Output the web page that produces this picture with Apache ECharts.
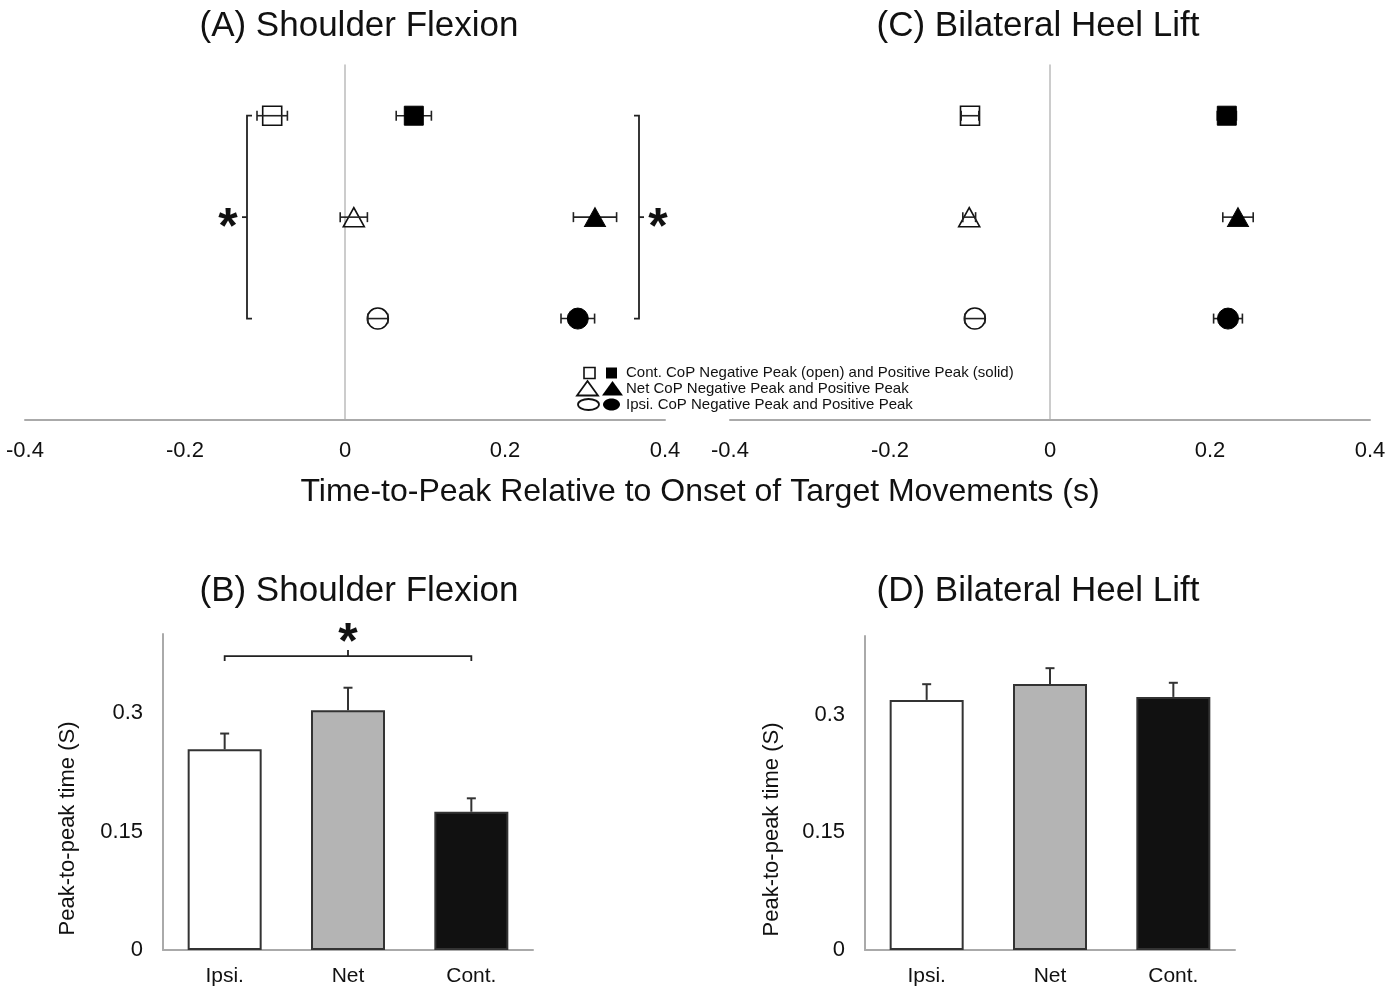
<!DOCTYPE html>
<html><head><meta charset="utf-8">
<script src="https://cdn.jsdelivr.net/npm/echarts@6/dist/echarts.min.js"></script>
<style>html,body{margin:0;padding:0;background:#fff}#c{width:1398px;height:987px}</style>
</head><body><div id="c"></div>
<script>
// ---------- DATA ----------
// rows in panels A/C: y = 1 (Ipsi, circle), 2 (Net, triangle), 3 (Cont, square)
const rowLabels = ['Ipsi.', 'Net', 'Cont.'];
const rowY = [1, 2, 3];
const rowSymbols = ['circle', 'triangle', 'rect'];
// (A) Shoulder Flexion: time-to-peak (s)
const shoulderNegMean = [0.041, 0.011, -0.091];
const shoulderNegErr  = [0.0125, 0.017, 0.019];
const shoulderPosMean = [0.291, 0.3125, 0.086];
const shoulderPosErr  = [0.021, 0.027, 0.022];
// (C) Bilateral Heel Lift: time-to-peak (s)
const heelNegMean = [-0.094, -0.101, -0.100];
const heelNegErr  = [0.0125, 0.008, 0.011];
const heelPosMean = [0.2225, 0.235, 0.221];
const heelPosErr  = [0.018, 0.019, 0.012];
// (B)/(D) peak-to-peak time (s)
const barCategories = ['Ipsi.', 'Net', 'Cont.'];
const shoulderP2P    = [0.254, 0.3035, 0.175];
const shoulderP2PErr = [0.020, 0.0285, 0.017];
const heelP2P        = [0.3186, 0.339, 0.3224];
const heelP2PErr     = [0.020, 0.020, 0.018];
const barColors = ['#ffffff', '#b4b4b4', '#111111'];
// significance annotations
const sigBracketsTop = [ // [x position, y from, y to, direction]
  [-0.1225, 1, 3, 1],
  [0.3675, 1, 3, -1]
];
const sigBracketB = [[0, 2, 0.372]]; // [cat from, cat to, y]
const legendRows = [
  'Cont. CoP Negative Peak (open) and Positive Peak (solid)',
  'Net CoP Negative Peak and Positive Peak',
  'Ipsi. CoP Negative Peak and Positive Peak'
];
const titles = ['(A) Shoulder Flexion', '(C) Bilateral Heel Lift', '(B) Shoulder Flexion', '(D) Bilateral Heel Lift'];
const sharedXName = 'Time-to-Peak Relative to Onset of Target Movements (s)';
const barYName = 'Peak-to-peak time (S)';

// ---------- CHART ----------
const FF = 'Liberation Sans, Arial, Helvetica, sans-serif';
const chart = echarts.init(document.getElementById('c'));

const symSize = {circle: 21, triangle: [21, 19], rect: 19};
function scatterData(means) {
  return means.map((m, i) => ({value: [m, rowY[i]], symbol: rowSymbols[i], symbolSize: symSize[rowSymbols[i]]}));
}
function errData(means, errs) { return means.map((m, i) => [m, rowY[i], errs[i]]); }

function hErr(params, api) {
  const x = api.value(0), y = api.value(1), e = api.value(2);
  const a = api.coord([x - e, y]), b = api.coord([x + e, y]);
  const c = 5, st = {stroke: '#222', lineWidth: 1.6};
  return {type: 'group', children: [
    {type: 'line', shape: {x1: a[0], y1: a[1], x2: b[0], y2: b[1]}, style: st},
    {type: 'line', shape: {x1: a[0], y1: a[1] - c, x2: a[0], y2: a[1] + c}, style: st},
    {type: 'line', shape: {x1: b[0], y1: b[1] - c, x2: b[0], y2: b[1] + c}, style: st}
  ]};
}
function vErr(params, api) {
  const i = api.value(0), v = api.value(1), e = api.value(2);
  const a = api.coord([i, v]), b = api.coord([i, v + e]);
  const st = {stroke: '#333', lineWidth: 2};
  return {type: 'group', children: [
    {type: 'line', shape: {x1: a[0], y1: a[1], x2: b[0], y2: b[1]}, style: st},
    {type: 'line', shape: {x1: b[0] - 4.5, y1: b[1], x2: b[0] + 4.5, y2: b[1]}, style: st}
  ]};
}
function bracketTop(params, api) {
  const x = api.value(0), y1 = api.value(1), y2 = api.value(2), d = api.value(3);
  const t = api.coord([x, y2]), b = api.coord([x, y1]), m = api.coord([x, (y1 + y2) / 2]);
  const s = 5 * d, st = {stroke: '#222', lineWidth: 1.8, fill: null};
  return {type: 'group', children: [
    {type: 'polyline', shape: {points: [[t[0] + s, t[1]], [t[0], t[1]], [b[0], b[1]], [b[0] + s, b[1]]]}, style: st},
    {type: 'line', shape: {x1: m[0], y1: m[1], x2: m[0] - s, y2: m[1]}, style: st},
    {type: 'text', x: m[0] - 19 * d, y: m[1] + 12, style: {text: '*', font: 'bold 50px ' + FF, fill: '#111', align: 'center', verticalAlign: 'middle'}}
  ]};
}
function bracketBar(params, api) {
  const a = api.coord([api.value(0), api.value(2)]), b = api.coord([api.value(1), api.value(2)]);
  const mx = (a[0] + b[0]) / 2, st = {stroke: '#222', lineWidth: 1.8, fill: null};
  return {type: 'group', children: [
    {type: 'polyline', shape: {points: [[a[0], a[1] + 5], [a[0], a[1]], [b[0], b[1]], [b[0], b[1] + 5]]}, style: st},
    {type: 'line', shape: {x1: mx, y1: a[1], x2: mx, y2: a[1] - 6}, style: st},
    {type: 'text', x: mx, y: a[1] - 12, style: {text: '*', font: 'bold 50px ' + FF, fill: '#111', align: 'center', verticalAlign: 'middle'}}
  ]};
}

const openStyle = {color: 'rgba(0,0,0,0)', borderColor: '#111', borderWidth: 1.6, opacity: 1};
const solidStyle = {color: '#000', borderColor: '#000', borderWidth: 1, opacity: 1};

function topX(gi) {
  return {gridIndex: gi, type: 'value', min: -0.4, max: 0.4, interval: 0.2,
    axisLine: {lineStyle: {color: '#aaa', width: 2}}, axisTick: {show: false}, splitLine: {show: false},
    axisLabel: {fontSize: 22, color: '#111', margin: 20, fontFamily: FF}};
}
function topY(gi) {
  return {gridIndex: gi, type: 'value', min: 0, max: 3.5,
    axisLine: {show: true, lineStyle: {color: '#bbb', width: 1.5}}, axisTick: {show: false},
    axisLabel: {show: false}, splitLine: {show: false}};
}
function barX(gi) {
  return {gridIndex: gi, type: 'category', data: barCategories,
    axisLine: {lineStyle: {color: '#aaa', width: 2}}, axisTick: {show: false},
    axisLabel: {fontSize: 21, color: '#111', margin: 16, fontFamily: FF}};
}
function barY(gi, gap) {
  return {gridIndex: gi, type: 'value', min: 0, max: 0.4, interval: 0.15,
    axisLine: {show: true, lineStyle: {color: '#aaa', width: 2}}, axisTick: {show: false}, splitLine: {show: false},
    axisLabel: {fontSize: 22, color: '#111', margin: 20, fontFamily: FF, showMaxLabel: false},
    name: barYName, nameLocation: 'middle', nameGap: gap,
    nameTextStyle: {fontSize: 22, color: '#111', fontFamily: FF, padding: [0, 73, 0, 0]}};
}

const legendGraphic = [];
const lgY = [373, 388.5, 404.5];
legendGraphic.push({type: 'rect', shape: {x: 584, y: lgY[0] - 5.5, width: 11, height: 11}, style: {fill: '#fff', stroke: '#111', lineWidth: 1.6}});
legendGraphic.push({type: 'rect', shape: {x: 606, y: lgY[0] - 5.5, width: 11, height: 11}, style: {fill: '#000'}});
legendGraphic.push({type: 'polygon', shape: {points: [[587.5, lgY[1] - 7.5], [598, lgY[1] + 7], [577, lgY[1] + 7]]}, style: {fill: '#fff', stroke: '#111', lineWidth: 1.8}});
legendGraphic.push({type: 'polygon', shape: {points: [[612.5, lgY[1] - 7.5], [623, lgY[1] + 7], [602, lgY[1] + 7]]}, style: {fill: '#000'}});
legendGraphic.push({type: 'ellipse', shape: {cx: 588.5, cy: lgY[2], rx: 10.5, ry: 5.5}, style: {fill: '#fff', stroke: '#111', lineWidth: 1.8}});
legendGraphic.push({type: 'ellipse', shape: {cx: 611.5, cy: lgY[2], rx: 8.5, ry: 6}, style: {fill: '#000'}});
legendRows.forEach((t, i) => legendGraphic.push({type: 'text', x: 626, y: lgY[i], style: {text: t, font: '15px ' + FF, fill: '#111', verticalAlign: 'middle'}}));

const titleStyle = {fontSize: 35, fontWeight: 'normal', color: '#111', fontFamily: FF};
const option = {
  animation: false,
  backgroundColor: '#fff',
  title: [
    {text: titles[0], left: 359, top: 9, textAlign: 'center', padding: 0, textStyle: titleStyle},
    {text: titles[1], left: 1038, top: 9, textAlign: 'center', padding: 0, textStyle: titleStyle},
    {text: titles[2], left: 359, top: 574, textAlign: 'center', padding: 0, textStyle: titleStyle},
    {text: titles[3], left: 1038, top: 574, textAlign: 'center', padding: 0, textStyle: titleStyle},
    {text: sharedXName, left: 700, top: 476, textAlign: 'center', padding: 0, textStyle: {fontSize: 32, fontWeight: 'normal', color: '#111', fontFamily: FF}}
  ],
  grid: [
    {left: 25, right: 1398 - 665, top: 65, bottom: 987 - 420},
    {left: 730, right: 1398 - 1370, top: 65, bottom: 987 - 420},
    {left: 163, right: 1398 - 533, top: 634, bottom: 987 - 950},
    {left: 865, right: 1398 - 1235, top: 636, bottom: 987 - 952}
  ],
  xAxis: [topX(0), topX(1), barX(2), barX(3)],
  yAxis: [topY(0), topY(1), barY(2, 84), barY(3, 82)],
  graphic: legendGraphic,
  series: [
    // Panel A
    {type: 'custom', xAxisIndex: 0, yAxisIndex: 0, renderItem: hErr, data: errData(shoulderNegMean, shoulderNegErr), z: 3},
    {type: 'custom', xAxisIndex: 0, yAxisIndex: 0, renderItem: hErr, data: errData(shoulderPosMean, shoulderPosErr), z: 1},
    {type: 'scatter', name: 'Negative Peak (A)', xAxisIndex: 0, yAxisIndex: 0, data: scatterData(shoulderNegMean), itemStyle: openStyle, z: 2},
    {type: 'scatter', name: 'Positive Peak (A)', xAxisIndex: 0, yAxisIndex: 0, data: scatterData(shoulderPosMean), itemStyle: solidStyle, z: 2},
    {type: 'custom', xAxisIndex: 0, yAxisIndex: 0, renderItem: bracketTop, data: sigBracketsTop, z: 3},
    // Panel C
    {type: 'custom', xAxisIndex: 1, yAxisIndex: 1, renderItem: hErr, data: errData(heelNegMean, heelNegErr), z: 3},
    {type: 'custom', xAxisIndex: 1, yAxisIndex: 1, renderItem: hErr, data: errData(heelPosMean, heelPosErr), z: 1},
    {type: 'scatter', name: 'Negative Peak (C)', xAxisIndex: 1, yAxisIndex: 1, data: scatterData(heelNegMean), itemStyle: openStyle, z: 2},
    {type: 'scatter', name: 'Positive Peak (C)', xAxisIndex: 1, yAxisIndex: 1, data: scatterData(heelPosMean), itemStyle: solidStyle, z: 2},
    // Panel B
    {type: 'bar', xAxisIndex: 2, yAxisIndex: 2, barWidth: '60%', z: 2,
      data: shoulderP2P.map((v, i) => ({value: v, itemStyle: {color: barColors[i]}})),
      itemStyle: {borderColor: '#333', borderWidth: 2}},
    {type: 'custom', xAxisIndex: 2, yAxisIndex: 2, renderItem: vErr, data: shoulderP2P.map((v, i) => [i, v, shoulderP2PErr[i]]), z: 3},
    {type: 'custom', xAxisIndex: 2, yAxisIndex: 2, renderItem: bracketBar, data: sigBracketB, z: 3},
    // Panel D
    {type: 'bar', xAxisIndex: 3, yAxisIndex: 3, barWidth: '60%', z: 2,
      data: heelP2P.map((v, i) => ({value: v, itemStyle: {color: barColors[i]}})),
      itemStyle: {borderColor: '#333', borderWidth: 2}},
    {type: 'custom', xAxisIndex: 3, yAxisIndex: 3, renderItem: vErr, data: heelP2P.map((v, i) => [i, v, heelP2PErr[i]]), z: 3}
  ]
};
chart.setOption(option);
</script>
</body></html>
